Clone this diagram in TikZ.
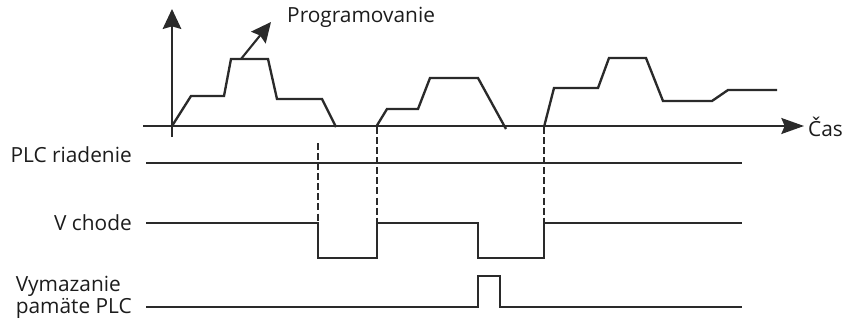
\documentclass[tikz,border=0pt]{standalone}
\usepackage{fontspec}
\setmainfont{Open Sans}
\usetikzlibrary{
  arrows.meta
}
\definecolor{TDInk}{HTML}{1C1C1C}
\definecolor{TDLine}{HTML}{2A2A2A}
\tikzset{
  tdsignal/.style={
    line width=2pt,
    color=TDLine,
    line join=miter
  },
  tdaxis/.style={
    line width=1.4pt,
    color=TDLine
  },
  tdguide/.style={
    line width=1.2pt,
    color=TDLine,
    dash pattern=on 6pt off 2.6pt
  },
  tdlabel/.style={
    font=\fontsize{17.8}{19}\selectfont,
    text=TDInk,
    inner sep=0pt
  }
}

\begin{document}
\begin{tikzpicture}[x=0.03cm,y=-0.03cm]
  \useasboundingbox (0,0) rectangle (860,324);

  % axes
  \coordinate (origin) at (172,126);
  \coordinate (ytop) at (172,9);
  \coordinate (xend) at (804,126);
  \draw[tdaxis,-{Stealth[length=6mm,width=5.6mm,inset=0.8mm]}] (172,137) -- (ytop);
  \draw[tdaxis,-{Stealth[length=6.8mm,width=4.8mm,inset=1mm]}] (143,126) -- (xend);
  \node[tdlabel,anchor=west] (cas) at (808,127) {Čas};

  % program load curve
  \draw[tdsignal] (origin) -- (191,96) -- (224,96) -- (231,59)
    -- (268,59) -- (277,99) -- (322,99) -- (336,127);
  \draw[tdsignal] (376,127) -- (387,109) -- (418,109) -- (430,78)
    -- (478,78) -- (506,129);
  \draw[tdsignal] (544,127) -- (554,88) -- (598,88) -- (609,58)
    -- (646,58) -- (663,101) -- (712,101) -- (728,90) -- (777,90);

  \coordinate (progfoot) at (241,59);
  \coordinate (progtip) at (271,22);
  \draw[tdaxis,line width=1.8pt,-{Stealth[length=6mm,width=5.6mm,inset=0.8mm]}]
    (progfoot) -- (progtip);
  \node[tdlabel,anchor=base west] (prog) at (287,22) {Programovanie};

  % signal labels
  \node[tdlabel,anchor=base east] (plc) at (132,162) {PLC riadenie};
  \node[tdlabel,anchor=base east] (run) at (132,230) {V chode};
  \node[tdlabel,anchor=north east,align=left] (clear) at (132,276)
    {Vymazanie\\pamäte PLC};

  % signals
  \draw[tdsignal] (146,163) -- (742,163);
  \draw[tdsignal] (146,223) -- (318,223) -- (318,258) -- (377,258)
    -- (377,223) -- (478,223) -- (478,258) -- (544,258) -- (544,223)
    -- (742,223);
  \draw[tdsignal] (146,307) -- (478,307) -- (478,276) -- (500,276)
    -- (500,307) -- (742,307);

  % guides
  \draw[tdguide] (318,143) -- (318,223);
  \draw[tdguide] (377,127) -- (377,223);
  \draw[tdguide] (544,127) -- (544,223);
\end{tikzpicture}
\end{document}
